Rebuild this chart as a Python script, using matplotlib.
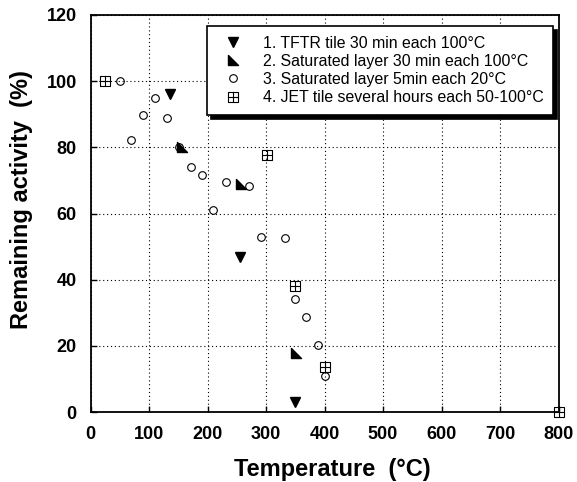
import matplotlib.pyplot as plt
import numpy as np
from matplotlib.path import Path

plt.rcParams['font.family'] = ['Liberation Sans', 'DejaVu Sans']

# 1. TFTR tile
x1 = [135, 255, 350]
y1 = [96, 47, 3]
# 2. saturated layer 30 min
x2 = [156, 257, 351]
y2 = [80, 69, 18]
# 3. saturated layer 5 min
x3 = [50, 110, 90, 131, 69, 151, 171, 190, 231, 270, 210, 291, 332, 349, 369, 389, 400]
y3 = [100, 95, 89.7, 89, 82.3, 80, 74.2, 71.7, 69.5, 68.4, 61.2, 53, 52.6, 34.2, 28.6, 20.2, 11]
# 4. JET tile
x4 = [25, 301, 350, 400, 800]
y4 = [100, 77.6, 38, 13.5, 0]

labels = ['1. TFTR tile 30 min each 100°C',
          '2. Saturated layer 30 min each 100°C',
          '3. Saturated layer 5min each 20°C',
          '4. JET tile several hours each 50-100°C']

# marker shapes
tri_ll = Path([(-1, 1), (-1, -1), (1, -1), (-1, 1)],
              [Path.MOVETO, Path.LINETO, Path.LINETO, Path.CLOSEPOLY])
sq_plus = Path([(-1, -1), (1, -1), (1, 1), (-1, 1), (-1, -1),
                (0, -1), (0, 1), (-1, 0), (1, 0)],
               [Path.MOVETO, Path.LINETO, Path.LINETO, Path.LINETO, Path.CLOSEPOLY,
                Path.MOVETO, Path.LINETO, Path.MOVETO, Path.LINETO])

fig = plt.figure(figsize=(5.77, 4.82), dpi=100)
ax = fig.add_axes([0.157, 0.145, 0.811, 0.824])

ax.plot(x1, y1, ls='none', marker='v', ms=7.5, mfc='black', mec='black', label=labels[0])
ax.plot(x2, y2, ls='none', marker=tri_ll, ms=6.5, mfc='black', mec='black', label=labels[1])
ax.plot(x3, y3, ls='none', marker='o', ms=5.5, mfc='none', mec='black', mew=0.8, label=labels[2])
ax.plot(x4, y4, ls='none', marker=sq_plus, ms=7.5, mfc='none', mec='black', mew=0.8,
        label=labels[3], clip_on=False, zorder=5)

ax.set_xlim(0, 800)
ax.set_ylim(0, 120)
ax.set_xticks(np.arange(0, 801, 100))
ax.set_yticks(np.arange(0, 121, 20))
ax.grid(True, ls=(0, (1, 2.5)), color='black', lw=0.8)
ax.tick_params(direction='in', length=4, width=1, labelsize=13, pad=10)
for lab in ax.get_xticklabels() + ax.get_yticklabels():
    lab.set_fontweight('bold')
for s in ax.spines.values():
    s.set_linewidth(1.3)

ax.set_xlabel('Temperature  (°C)', fontsize=17, fontweight='bold')
ax.set_ylabel('Remaining activity  (%)', fontsize=17, fontweight='bold')
ax.xaxis.set_label_coords(0.516, -0.115)
ax.yaxis.set_label_coords(-0.122, 0.535)

leg = ax.legend(loc='upper right', bbox_to_anchor=(0.988, 0.972), fontsize=11.4,
                fancybox=False, edgecolor='black', framealpha=1,
                shadow={'color': 'black', 'alpha': 1, 'ox': 3, 'oy': -3},
                handletextpad=0.9, labelspacing=0.2, borderpad=0.6, borderaxespad=0)
leg.get_frame().set_linewidth(1.2)

fig.savefig('out.png', dpi=100)
